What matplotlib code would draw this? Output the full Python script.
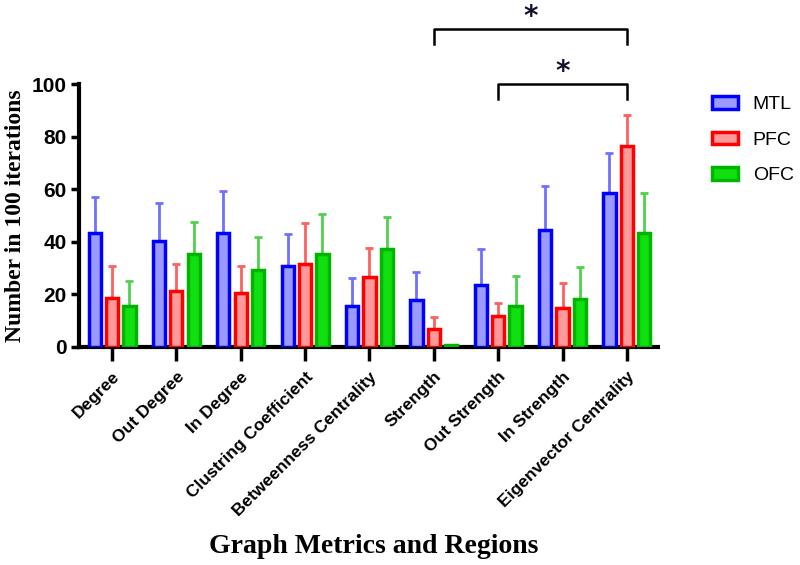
import numpy as np
import matplotlib.pyplot as plt

# metrics on the x axis
metrics = ['Degree', 'Out Degree', 'In Degree', 'Clustring Coefficient',
           'Betweenness Centrality', 'Strength', 'Out Strength',
           'In Strength', 'Eigenvector Centrality']

# mean counts per region
mtl = [43.3, 40.3, 43.3, 30.9, 15.4, 17.8, 23.5, 44.4, 58.6]
pfc = [18.7, 21.1, 20.5, 31.6, 26.7, 6.7, 11.8, 14.8, 76.4]
ofc = [15.7, 35.3, 29.4, 35.3, 37.2, 0.6, 15.5, 18.4, 43.5]

# upper error (sd)
mtl_err = [13.9, 14.4, 15.9, 12.1, 10.7, 10.6, 13.9, 17.0, 15.3]
pfc_err = [12.2, 10.3, 10.4, 15.4, 11.0, 4.5, 5.0, 9.6, 11.8]
ofc_err = [9.2, 12.3, 12.5, 15.1, 12.3, 0.0, 11.5, 12.1, 15.0]

# significance brackets: (start metric, end metric, height)
brackets = [('Strength', 'Eigenvector Centrality', 121.0),
            ('Out Strength', 'Eigenvector Centrality', 100.0)]

fig = plt.figure(figsize=(8, 5.65), dpi=100)
ax = fig.add_axes([0.099, 0.386, 0.724, 0.465])

x = np.arange(len(metrics))
w = 0.19
off = 0.27
series = [
    ('MTL', mtl, mtl_err, '#0000ff', '#9a9aff', '#7070ff'),
    ('PFC', pfc, pfc_err, '#ff0000', '#ff9a9a', '#ff6060'),
    ('OFC', ofc, ofc_err, '#00b400', '#10e010', '#50d050'),
]
for i, (name, vals, err, edge, fill, ecol) in enumerate(series):
    pos = x + (i - 1) * off
    ax.bar(pos, vals, width=w, color=fill, edgecolor=edge, linewidth=2.5,
           label=name, zorder=3)
    ax.errorbar(pos, vals, yerr=[np.zeros(len(vals)), err], fmt='none',
                ecolor=ecol, elinewidth=2, capsize=3, capthick=2, zorder=2)

ax.set_xlim(-0.51, 8.49)
ax.set_ylim(0, 100)
ax.set_yticks([0, 20, 40, 60, 80, 100])
ax.set_xticks(x)
ax.set_xticklabels(metrics, rotation=45, ha='right', rotation_mode='anchor',
                   fontsize=12.5, fontweight='bold', family='Liberation Sans')
for lab in ax.get_yticklabels():
    lab.set_fontsize(15)
    lab.set_fontweight('bold')
    lab.set_family('Liberation Sans')

for s in ['top', 'right']:
    ax.spines[s].set_visible(False)
for s in ['left', 'bottom']:
    ax.spines[s].set_linewidth(3)
ax.tick_params(axis='y', width=2.5, length=6, pad=3)
ax.tick_params(axis='x', width=2.5, length=10, pad=6)

ax.set_ylabel('Number in 100 iterations', fontsize=17, fontweight='bold',
              family='Liberation Serif', labelpad=4)
fig.text(0.467, 0.022, 'Graph Metrics and Regions', fontsize=20,
         fontweight='bold', family='Liberation Serif', ha='center')

for a, b, h in brackets:
    xa = metrics.index(a)
    xb = metrics.index(b)
    ax.plot([xa, xa, xb, xb], [h - 5.7, h, h, h - 5.7], color='black',
            lw=1.8, clip_on=False)
    ax.text((xa + xb) / 2, h + 4.6, '*', ha='center', va='center',
            fontsize=20, fontweight='bold', color='#10102a', clip_on=False)

ax.legend(loc='upper left', bbox_to_anchor=(1.062, 1.02), frameon=False,
          handlelength=1.35, handleheight=0.6, labelspacing=0.95,
          handletextpad=0.75,
          prop={'family': 'Liberation Sans', 'size': 14})

fig.savefig('out.png', dpi=100)
